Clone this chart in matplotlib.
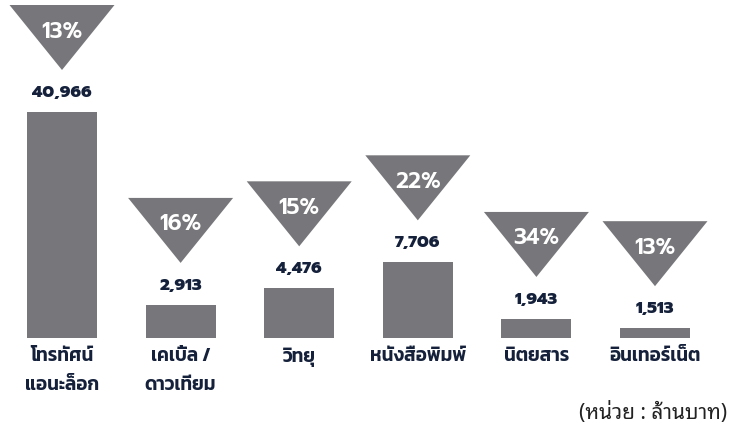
import matplotlib
matplotlib.use("Agg")
import numpy as np
import matplotlib.pyplot as plt
from matplotlib.patches import Polygon
from matplotlib.transforms import ScaledTranslation

# data
categories = ["โทรทัศน์\nแอนะล็อก", "เคเบิ้ล /\nดาวเทียม", "วิทยุ", "หนังสือพิมพ์", "นิตยสาร", "อินเทอร์เน็ต"]
values = [40966, 2913, 4476, 7706, 1943, 1513]
changes = ["13%", "16%", "15%", "22%", "34%", "13%"]
unit_note = "(หน่วย : ล้านบาท)"

GREY = "#77777b"
NAVY = "#15213b"
NUM_FONT = ["Prompt", "DejaVu Sans"]
THAI_FONT = ["Kanit", "Noto Sans Thai", "DejaVu Sans"]
NOTE_FONT = ["Noto Sans Thai Looped", "Noto Sans Thai", "DejaVu Sans"]

fig = plt.figure(figsize=(7.42, 4.32), dpi=100)
ax = fig.add_axes([0, 94 / 432, 1, 226 / 432])

# infographic-style compressed height scale
def fwd(v):
    return np.clip(np.asarray(v, float) - 1300, 0, None) ** 0.6

def inv(y):
    return np.asarray(y, float) ** (1 / 0.6) + 1300

ax.set_yscale("function", functions=(fwd, inv))
ax.set_ylim(0, max(values))
ax.set_xlim(-62 / 118.6, (742 - 62) / 118.6)
ax.axis("off")

x = np.arange(len(values))
ax.bar(x, values, width=0.59, color=GREY)

for xi, v, pct, cat in zip(x, values, changes, categories):
    # value label above the bar
    ax.annotate(f"{v:,}", (xi, v), xytext=(0, 19), textcoords="offset pixels",
                ha="center", va="center", fontsize=12, fontweight="heavy",
                color=NAVY, family=NUM_FONT)
    # inverted triangle with the change figure
    tr = fig.dpi_scale_trans + ScaledTranslation(xi, v, ax.transData)
    tri = Polygon([(-0.525, 1.07), (0.525, 1.07), (0, 0.42)], closed=True,
                  transform=tr, facecolor=GREY, edgecolor="none", clip_on=False)
    ax.add_patch(tri)
    ax.annotate(pct, (xi, v), xytext=(0, 80), textcoords="offset pixels",
                ha="center", va="center", fontsize=16, fontweight="semibold",
                color="white", family=NUM_FONT)
    # category label under the baseline
    ax.annotate(cat, (xi, 0), xytext=(0, -10), textcoords="offset pixels",
                ha="center", va="top", fontsize=13.5, fontweight="semibold",
                color=NAVY, family=THAI_FONT, linespacing=1.9)

fig.text(727 / 742, 1 - 413 / 432, unit_note, ha="right", va="center",
         fontsize=15, color="#222222", family=NOTE_FONT)

fig.savefig("out.png", dpi=100)
